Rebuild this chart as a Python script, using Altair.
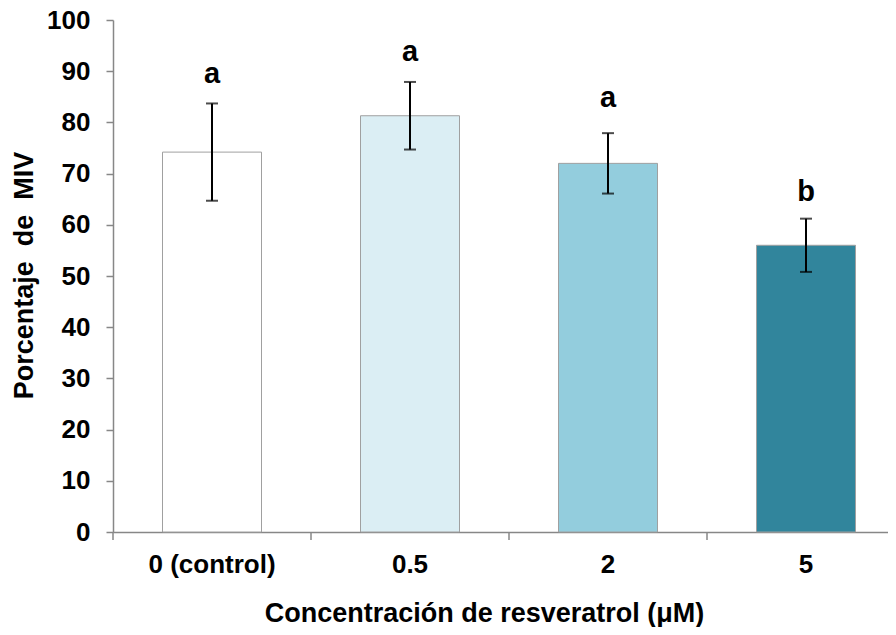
import altair as alt
import pandas as pd

categories = ["0 (control)", "0.5", "2", "5"]
means = [74.2, 81.3, 72.0, 56.0]
errors = [9.5, 6.6, 5.9, 5.2]
letters = ["a", "a", "a", "b"]
letter_pos = [87.7, 92.0, 83.1, 64.7]
colors = ["#FFFFFF", "#DBEEF4", "#93CDDD", "#31859C"]

df = pd.DataFrame({
    "cat": categories,
    "mean": means,
    "lo": [m - e for m, e in zip(means, errors)],
    "hi": [m + e for m, e in zip(means, errors)],
    "letter": letters,
    "lpos": letter_pos,
    "color": colors,
})

FONT = "Liberation Sans"
AXIS_GREY = "#878787"

x = alt.X("cat:N", sort=categories,
          scale=alt.Scale(range=[0, 792], paddingInner=0.5, paddingOuter=0.25),
          axis=alt.Axis(title="Concentración de resveratrol (μM)", labelAngle=0,
                        ticks=False, labelPadding=19,
                        labelFontSize=26, labelFontWeight="bold", labelFont=FONT,
                        labelColor="#000000",
                        titleFontSize=27, titleFontWeight="bold", titleFont=FONT,
                        titleColor="#000000", titleX=371, titleY=89,
                        titleAlign="center", titleBaseline="alphabetic",
                        domainColor=AXIS_GREY, domainWidth=1.5))

y_axis = alt.Axis(title="Porcentaje\u00a0 de\u00a0 MIV", values=list(range(0, 101, 10)),
                  grid=False, ticks=True, tickSize=7, labelPadding=16,
                  labelFontSize=26, labelFontWeight="bold", labelFont=FONT,
                  labelColor="#000000",
                  titleFontSize=27, titleFontWeight="bold", titleFont=FONT,
                  titleColor="#000000", titleX=-81, titleY=255, titleAngle=270,
                  titleAlign="center", titleBaseline="alphabetic",
                  domainColor=AXIS_GREY, tickColor=AXIS_GREY,
                  domainWidth=1.5, tickWidth=1.5)

base = alt.Chart(df)

bars = base.mark_bar(stroke="#A0A0A0", strokeWidth=1).encode(
    x=x,
    y=alt.Y("mean:Q", scale=alt.Scale(domain=[0, 100]), axis=y_axis),
    color=alt.Color("color:N", scale=None),
)

# category separator ticks at the step boundaries below the x axis
xticks = base.mark_rule(color=AXIS_GREY, strokeWidth=1.5, xOffset=-49.5).encode(
    x=alt.X("cat:N", sort=categories, bandPosition=0),
    y=alt.value(512), y2=alt.value(520))

rule = base.mark_rule(color="black", strokeWidth=2).encode(
    x=alt.X("cat:N", sort=categories), y="lo:Q", y2="hi:Q")
cap_hi = base.mark_tick(color="black", size=12, thickness=2).encode(
    x=alt.X("cat:N", sort=categories), y="hi:Q")
cap_lo = base.mark_tick(color="black", size=12, thickness=2).encode(
    x=alt.X("cat:N", sort=categories), y="lo:Q")

text = base.mark_text(fontSize=29, fontWeight="bold", font=FONT, color="black",
                      baseline="alphabetic").encode(
    x=alt.X("cat:N", sort=categories), y="lpos:Q", text="letter:N")

chart = alt.layer(bars, xticks, rule, cap_hi, cap_lo, text).properties(
    width=775, height=512,
    autosize=alt.AutoSizeParams(type="none"),
    padding={"left": 105, "top": 12, "right": 0, "bottom": 95},
).configure_view(stroke=None)

chart.save("out.html", embed_options={"renderer": "svg", "actions": False})
